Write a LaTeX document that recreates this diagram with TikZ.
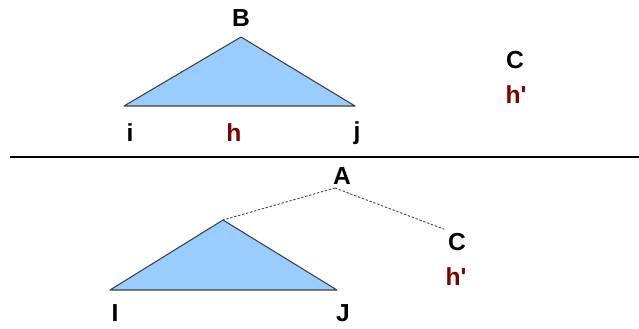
\documentclass[tikz,border=0pt]{standalone}
\usepackage{fontspec}
\setmainfont{Liberation Sans}
\usepackage{tikz}

\definecolor{treefill}{HTML}{99CCFF}
\definecolor{headred}{HTML}{800000}

\begin{document}
\begin{tikzpicture}[x=0.03cm,y=-0.03cm,font=\fontsize{21}{24}\selectfont\bfseries,tree/.style={draw=black!75,fill=treefill,line width=0.9pt,line join=round},head/.style={text=headred},link/.style={draw=black!70,line width=0.8pt,dash pattern=on 2pt off 1.5pt}]
\useasboundingbox (0,0) rectangle (639,328);
% upper tree
\node (B) at (241,18) {B};
\coordinate (Btop) at (241,37);
\draw[tree] (Btop) -- (355,106) -- (124,106) -- cycle;
\node (i) at (130,133) {i}; \node[head] (h) at (234,133) {h}; \node (j) at (357,133) {j};
\node (C1) at (515,60) {C}; \node[head] (h1) at (516,95) {h\textquotesingle};
\draw[line width=1pt] (10,157) -- (639,157);
% lower tree
\node (A) at (342,176) {A};
\coordinate (Aroot) at (335,188);
\coordinate (Ltop) at (223,220);
\node (C2) at (457,242) {C}; \node[head] (h2) at (456,277) {h\textquotesingle};
\draw[tree] (Ltop) -- (337,290) -- (110,290) -- cycle;
\draw[link] (Aroot) -- (Ltop); \draw[link] (Aroot) -- (C2.north west);
\node (I) at (115,313) {I}; \node (J) at (343,313) {J};
\end{tikzpicture}
\end{document}
